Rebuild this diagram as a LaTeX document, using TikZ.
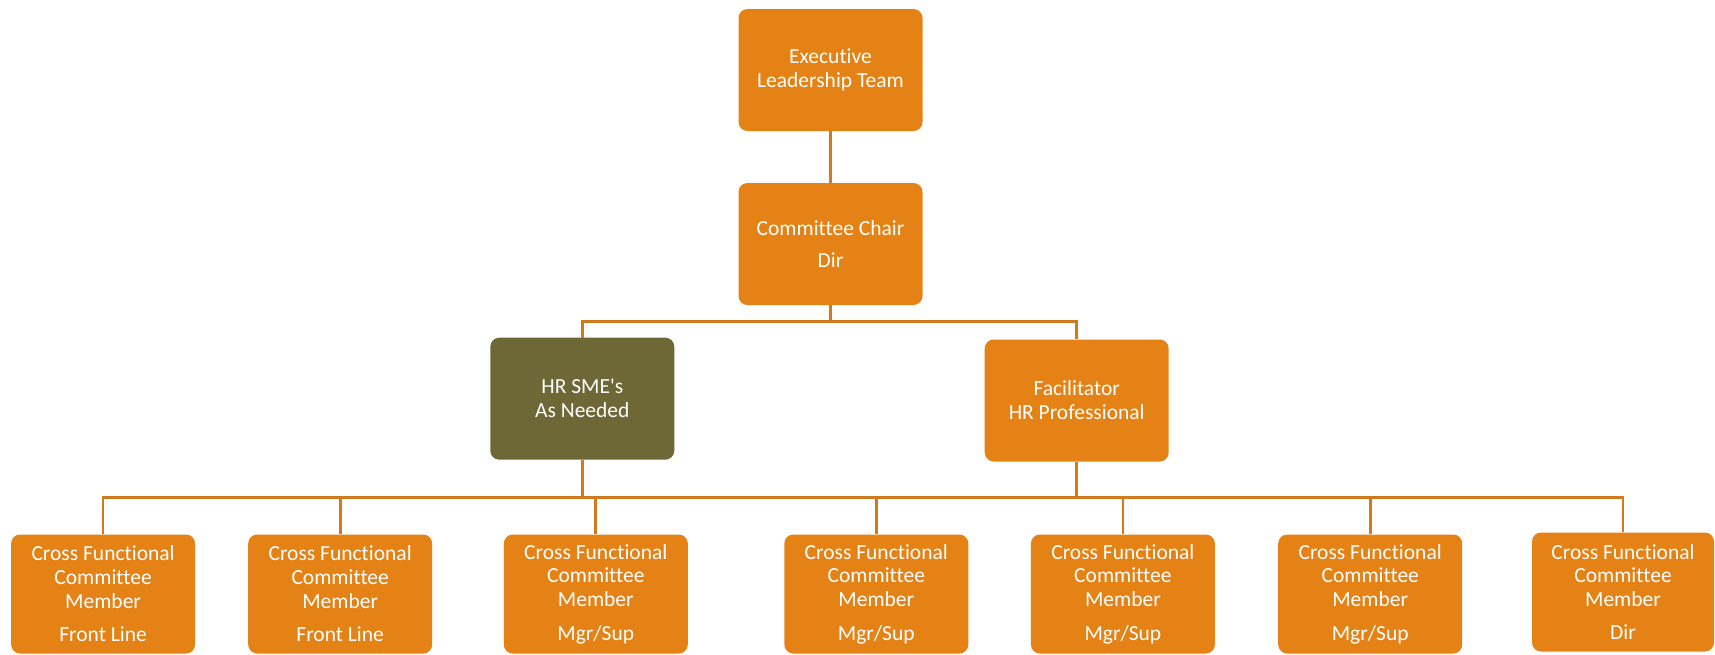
\documentclass[tikz,border=0pt]{standalone}
\usepackage{fontspec}
\setmainfont{Carlito}[Ligatures=NoCommon]
\definecolor{boxorange}{RGB}{228,130,21}
\definecolor{boxolive}{RGB}{109,104,54}
\definecolor{lineorange}{RGB}{208,121,30}
\begin{document}
\begin{tikzpicture}[x=1pt,y=-1pt,
  orgbox/.style={rectangle, rounded corners=9pt, fill=boxorange, text=white,
    minimum width=184pt, minimum height=122pt, inner sep=0pt, align=center,
    font=\fontsize{21.5}{23.8}\selectfont},
  olivebox/.style={orgbox, fill=boxolive},
  memberbox/.style={orgbox, minimum height=119pt, anchor=north},
  conn/.style={draw=lineorange, line width=2.7pt}]
\useasboundingbox (0,0) rectangle (1715,654);
\node[orgbox] (exec) at (830.5,70) {Executive\\Leadership Team};
\node[orgbox] (chair) at (830.5,244) {Committee Chair\\[8.5pt]Dir};
\node[olivebox] (hr) at (582.3,398.7) {HR SME\textquotesingle s\\As Needed};
\node[orgbox] (fac) at (1076.7,400.5) {Facilitator\\HR Professional};
\node[memberbox] (m1) at (103.1,534.3) {Cross Functional\\Committee\\Member\\[9.5pt]Front Line};
\node[memberbox] (m2) at (340.2,534.3) {Cross Functional\\Committee\\Member\\[9.5pt]Front Line};
\node[memberbox] (m3) at (595.8,534.3) {Cross Functional\\Committee\\Member\\[9.5pt]Mgr/Sup};
\node[memberbox] (m4) at (876.3,534.3) {Cross Functional\\Committee\\Member\\[9.5pt]Mgr/Sup};
\node[memberbox] (m5) at (1122.9,534.3) {Cross Functional\\Committee\\Member\\[9.5pt]Mgr/Sup};
\node[memberbox] (m6) at (1370.2,534.3) {Cross Functional\\Committee\\Member\\[9.5pt]Mgr/Sup};
\node[memberbox, minimum width=182pt] (m7) at (1623,532.3) {Cross Functional\\Committee\\Member\\[9.5pt]Dir};
\coordinate (busA) at (830.5,321.5);
\coordinate (busB) at (582.3,497.5);
\coordinate (busC) at (1076.7,497.5);
\draw[conn] (exec) -- (chair);
\draw[conn] (chair) -- (busA);
\draw[conn] (busA) -| (hr.north);
\draw[conn] (busA) -| (fac.north);
\draw[conn] (hr.south) -- (busB);
\draw[conn] (fac.south) -- (busC);
\draw[conn] (busB) -- (busC);
\foreach \m in {m1,m2,m3} \draw[conn] (\m.north) |- (busB);
\foreach \m in {m4,m5,m6,m7} \draw[conn] (\m.north) |- (busC);
\end{tikzpicture}
\end{document}
